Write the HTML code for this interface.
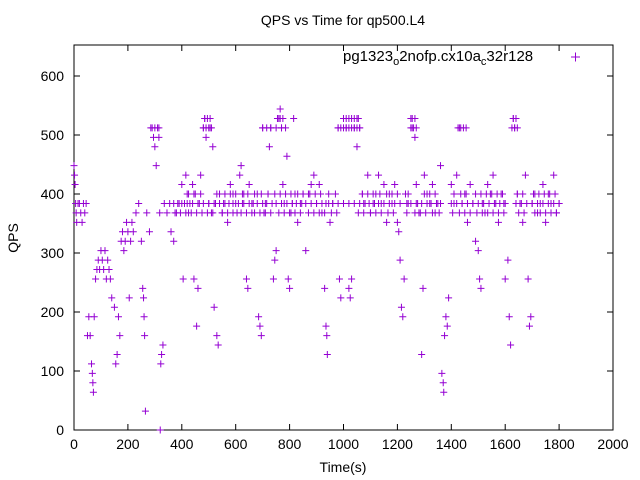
<!DOCTYPE html>
<html><head><meta charset="utf-8"><style>
body{margin:0;background:#fff;}
svg{display:block;font-family:"Liberation Sans",sans-serif;}
</style></head><body>
<svg id="chart" width="640" height="480">
<rect width="640" height="480" fill="#fff"/>
<text x="343" y="25" text-anchor="middle" font-size="14">QPS vs Time for qp500.L4</text>
<rect x="74" y="45" width="539" height="385" fill="none" stroke="#000" stroke-width="1"/>
<g id="axes"></g>
<g id="marks"></g>
<text x="343" y="472" text-anchor="middle" font-size="14">Time(s)</text>
<text transform="translate(18,238) rotate(-90)" text-anchor="middle" font-size="14">QPS</text>
<g>
<text x="343" y="61" font-size="15">pg1323<tspan font-size="11" dy="4">o</tspan><tspan dy="-4">2nofp.cx10a</tspan><tspan font-size="11" dy="4">c</tspan><tspan dy="-4">32r128</tspan></text>
<path d="M571,57h9M575.5,52.5v9" stroke="#9400d3" stroke-width="1"/>
</g>
</svg>
<script>
const xTicks=[0,200,400,600,800,1000,1200,1400,1600,1800,2000];
const yTicks=[0,100,200,300,400,500,600];
const times=[0,2,4,6,8,10,15,20,25,30,35,40,45,50,55,60,65,68,70,72,75,80,85,90,95,100,105,110,115,120,125,130,135,140,150,155,160,165,170,175,180,185,190,195,200,205,210,215,220,230,240,250,255,258,260,262,265,270,280,290,295,300,305,310,315,318,320,322,325,330,335,345,355,360,370,380,390,400,405,410,415,420,425,430,440,445,450,455,460,465,470,475,480,485,490,500,505,510,515,520,525,530,535,540,550,560,570,580,590,600,605,615,620,625,630,640,645,650,660,670,680,685,690,695,700,705,710,720,725,730,740,745,750,760,765,770,775,780,790,795,800,805,810,815,820,830,840,850,860,870,880,890,900,910,920,930,935,938,940,945,950,960,970,980,985,990,1000,1010,1020,1025,1030,1040,1050,1055,1060,1070,1080,1090,1100,1110,1120,1130,1140,1150,1160,1170,1180,1190,1200,1205,1210,1215,1220,1225,1230,1240,1250,1255,1265,1270,1275,1280,1290,1295,1300,1310,1320,1330,1340,1350,1360,1365,1370,1372,1375,1380,1385,1390,1400,1410,1420,1430,1440,1450,1460,1470,1480,1490,1500,1505,1510,1515,1525,1535,1545,1555,1565,1575,1585,1595,1600,1610,1615,1620,1630,1635,1645,1655,1665,1675,1685,1690,1695,1700,1710,1720,1730,1740,1750,1760,1770,1780,1790,1800];
const qps=[448,432,416,384,368,352,384,384,368,352,384,368,384,160,192,160,112,96,80,64,192,256,272,288,272,304,288,272,304,256,288,272,256,224,208,112,128,192,160,320,336,304,320,352,336,224,320,352,336,368,384,320,240,224,192,160,32,368,336,512,496,480,448,512,496,368,0,112,128,144,384,368,384,336,320,368,384,416,256,384,432,400,368,384,416,256,400,176,240,384,432,368,512,528,496,384,512,368,480,208,384,160,144,400,368,384,352,416,400,384,368,432,448,384,400,256,240,416,384,368,400,192,176,160,512,368,384,400,480,512,256,288,304,528,544,512,416,384,464,256,240,368,384,528,400,352,384,400,304,400,416,432,384,416,368,240,176,160,128,384,352,384,400,512,256,224,528,512,240,224,256,512,480,528,512,400,384,432,368,384,400,432,384,416,352,400,384,416,352,336,288,208,192,256,400,384,528,512,496,416,384,368,128,240,432,400,384,416,368,384,448,96,80,64,160,192,176,224,416,384,432,512,384,400,352,416,384,320,304,256,240,384,368,416,400,432,384,352,400,384,256,288,192,144,528,512,400,384,352,432,256,176,192,384,400,368,384,416,352,400,384,432,368,384];
const q384Times=[370,385,400,420,440,460,480,500,520,540,555,575,590,610,630,650,665,680,700,715,735,750,770,790,810,825,845,860,880,900,920,935,960,980,1000,1020,1040,1060,1075,1095,1115,1130,1150,1170,1190,1210,1235,1250,1270,1290,1310,1325,1345,1360,1400,1420,1440,1460,1480,1500,1520,1540,1560,1580,1600,1640,1660,1680,1700,1720,1740,1760,1780,1800];
const q368Times=[375,395,415,435,455,495,515,550,570,590,620,640,660,690,710,730,760,780,800,820,840,870,890,910,930,955,975,1055,1075,1100,1120,1140,1165,1185,1235,1265,1285,1305,1330,1355,1405,1430,1450,1470,1495,1515,1535,1555,1575,1595,1650,1670,1710,1730,1750,1770,1790];
const q400Times=[425,445,470,530,560,580,600,625,645,670,695,720,745,765,785,805,830,850,875,895,915,945,1070,1090,1110,1135,1160,1180,1200,1240,1300,1320,1340,1410,1435,1455,1490,1510,1530,1550,1570,1590,1645,1665,1705,1725,1745,1765,1785];
const q512Times=[285,300,315,480,490,500,510,700,715,730,750,770,785,980,990,1000,1010,1020,1030,1040,1050,1060,1250,1260,1270,1425,1435,1445,1455,1625,1635,1645];
const q528Times=[485,495,505,755,765,775,1000,1010,1020,1030,1040,1050,1255,1265,1630,1640];
const X=t=>74+t*539/2000;
const Y=q=>430-q*354/600;
const NS="http://www.w3.org/2000/svg";
const axes=document.getElementById('axes');
xTicks.forEach(v=>{
 const x=X(v);
 const l=document.createElementNS(NS,'path');
 l.setAttribute('d',`M${x},430v-6M${x},45v6`);l.setAttribute('stroke','#000');
 
 
 axes.appendChild(l);
 const t=document.createElementNS(NS,'text');
 t.setAttribute('x',x);t.setAttribute('y',449);t.setAttribute('text-anchor','middle');t.setAttribute('font-size','14');
 t.textContent=v;
 
 
 axes.appendChild(t);
});
yTicks.forEach(v=>{
 const y=Y(v);
 const l=document.createElementNS(NS,'path');
 l.setAttribute('d',`M74,${y}h6M613,${y}h-6`);l.setAttribute('stroke','#000');
 
 
 axes.appendChild(l);
 const t=document.createElementNS(NS,'text');
 t.setAttribute('x',64);t.setAttribute('y',y+5);t.setAttribute('text-anchor','end');t.setAttribute('font-size','14');
 t.textContent=v;
 
 
 axes.appendChild(t);
});
const marks=document.getElementById('marks');
function plus(t,q){
 const x=X(t),y=Y(q);
 const p=document.createElementNS(NS,'path');
 p.setAttribute('d',`M${x-3.5},${y}h7M${x},${y-3.5}v7`);
 p.setAttribute('stroke','#9400d3');p.setAttribute('stroke-width','1');
 
 
 marks.appendChild(p);
}
times.forEach((t,i)=>plus(t,qps[i]));
q384Times.forEach(t=>plus(t,384));
q368Times.forEach(t=>plus(t,368));
q400Times.forEach(t=>plus(t,400));
q512Times.forEach(t=>plus(t,512));
q528Times.forEach(t=>plus(t,528));
</script>
</body></html>
